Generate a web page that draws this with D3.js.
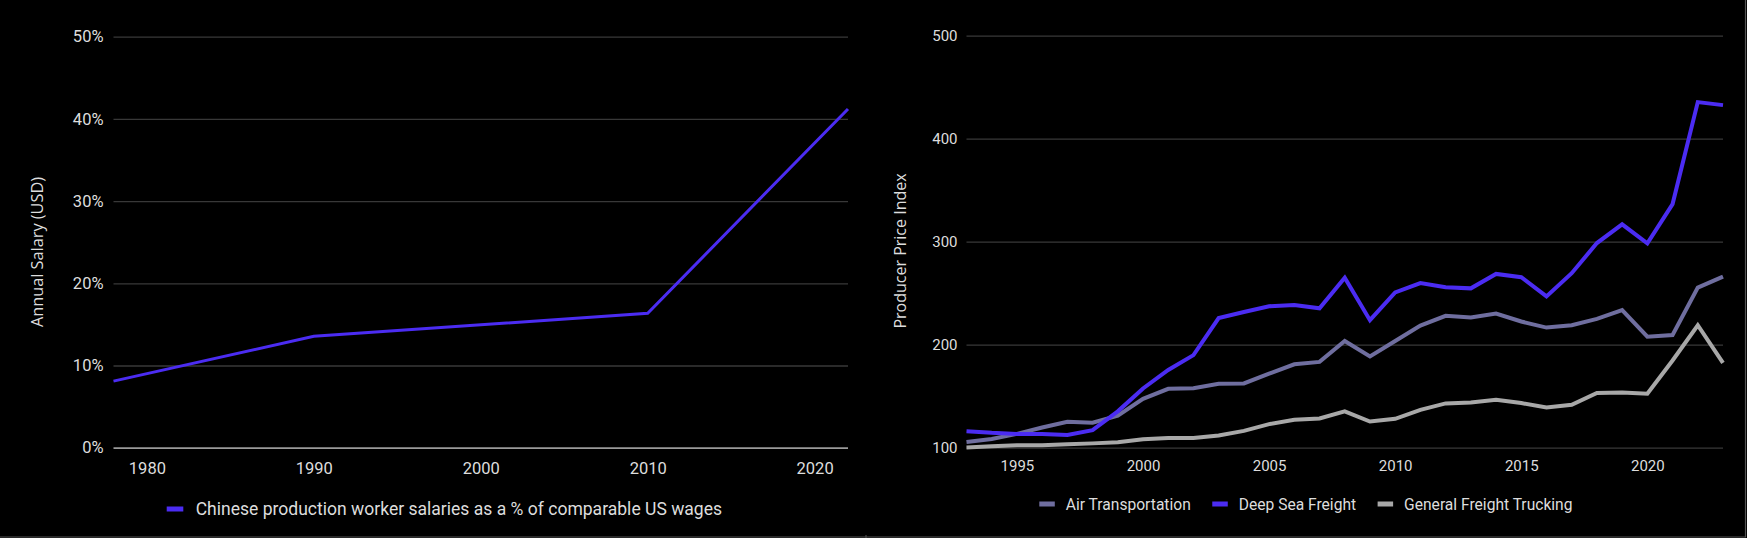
<!DOCTYPE html>
<html>
<head>
<meta charset="UTF-8">
<style>
  html, body { margin: 0; padding: 0; background: #000; }
  svg { display: block; }
  text { font-family: Roboto, "Noto Sans", sans-serif; fill: #dddddd; }
</style>
</head>
<body>
<svg width="1747" height="538"></svg>
<script src="https://cdn.jsdelivr.net/npm/d3@7"></script>
<script>

// left chart: Chinese wages as share of US wages
var wageYears = [1978, 1990, 2010, 2022];
var wageShare = [0.081, 0.1355, 0.1635, 0.412];
var wageXTicks = [1980, 1990, 2000, 2010, 2020];
var wageYTicks = [0, 0.1, 0.2, 0.3, 0.4, 0.5];
var wageLegend = "Chinese production worker salaries as a % of comparable US wages";

// right chart: producer price indexes
var ppiYears = [1993, 1994, 1995, 1996, 1997, 1998, 1999, 2000, 2001, 2002, 2003,
  2004, 2005, 2006, 2007, 2008, 2009, 2010, 2011, 2012, 2013, 2014, 2015, 2016,
  2017, 2018, 2019, 2020, 2021, 2022, 2023];
var airTransport = [105.6, 108.5, 113.4, 119.6, 125.2, 124.2, 131.0, 147.4, 157.2, 157.8,
  162.1, 162.4, 171.9, 181.0, 183.3, 203.6, 188.6, 203.6, 218.6, 228.0, 226.4, 230.3,
  222.5, 216.6, 218.9, 225.1, 233.6, 207.8, 209.4, 255.4, 266.1];
var deepSea = [116.0, 114.4, 113.4, 113.4, 112.4, 117.0, 135.3, 157.5, 175.5, 189.9,
  225.8, 231.7, 237.3, 238.6, 235.3, 265.0, 223.8, 250.8, 259.9, 255.7, 254.7, 268.7,
  265.5, 246.9, 269.4, 298.7, 316.9, 298.4, 336.5, 435.5, 432.6];
var trucking = [100.3, 101.3, 102.3, 102.3, 103.3, 104.2, 105.2, 108.2, 109.5, 109.5,
  111.8, 116.3, 122.9, 127.1, 128.4, 135.3, 125.4, 128.0, 136.8, 143.0, 144.0, 146.6,
  143.3, 139.1, 141.7, 153.1, 153.7, 152.4, 184.7, 218.9, 182.4];
var ppiNames = ["Air Transportation", "Deep Sea Freight", "General Freight Trucking"];
var ppiXTicks = [1995, 2000, 2005, 2010, 2015, 2020];
var ppiYTicks = [100, 200, 300, 400, 500];

var blue = "#4b2cf2", slate = "#6f6e9f", grey = "#a8a8a8";
var gridColor = "#383838";

var svg = d3.select("svg");

svg.append("rect").attr("width", 1747).attr("height", 538).attr("fill", "#000");
// card frame
svg.append("line").attr("x1", 0).attr("x2", 1746).attr("y1", 537).attr("y2", 537)
  .attr("stroke", "#555").attr("stroke-width", 1.2);
svg.append("line").attr("x1", 1745.5).attr("x2", 1745.5).attr("y1", 0).attr("y2", 537)
  .attr("stroke", "#555").attr("stroke-width", 1.2);
svg.append("line").attr("x1", 866).attr("x2", 866).attr("y1", 535).attr("y2", 538)
  .attr("stroke", "#555");

// ---------- left chart ----------
var xL = d3.scaleLinear().domain([1978, 2022]).range([113.5, 848]);
var yL = d3.scaleLinear().domain([0, 0.5]).range([447.7, 36.7]);

var gL = svg.append("g");

gL.append("g")
  .attr("transform", "translate(" + xL.range()[0] + ",0)")
  .call(d3.axisLeft(yL).tickValues(wageYTicks).tickFormat(d3.format(".0%"))
    .tickSize(-(xL.range()[1] - xL.range()[0])).tickPadding(10))
  .call(function(g) {
    g.select(".domain").remove();
    g.selectAll(".tick line").attr("stroke", function(d) { return d === 0 ? "#9a9a9a" : gridColor; })
      .attr("stroke-width", function(d) { return d === 0 ? 1.8 : 1.3; });
    g.selectAll(".tick text").attr("fill", "#dddddd").style("font-size", "16.5px")
      .style("font-family", "Roboto");
  });

gL.append("g")
  .attr("transform", "translate(0," + yL(0) + ")")
  .call(d3.axisBottom(xL).tickValues(wageXTicks).tickFormat(d3.format("d"))
    .tickSize(0).tickPadding(14.5))
  .call(function(g) {
    g.select(".domain").remove();
    g.selectAll(".tick text").attr("fill", "#dddddd").style("font-size", "16.5px")
      .style("font-family", "Roboto");
  });

gL.append("path")
  .datum(wageYears.map(function(d, i) { return [d, wageShare[i]]; }))
  .attr("fill", "none")
  .attr("stroke", blue)
  .attr("stroke-width", 3)
  .attr("d", d3.line().x(function(d) { return xL(d[0]); }).y(function(d) { return yL(d[1]); }));

gL.append("text")
  .attr("transform", "translate(37," + 252 + ") rotate(-90)")
  .attr("text-anchor", "middle")
  .attr("dy", "0.35em")
  .style("font-family", "Open Sans")
  .style("font-size", "16.3px")
  .text("Annual Salary (USD)");

var legL = gL.append("g").attr("transform", "translate(166.7,509)");
legL.append("rect").attr("x", 0).attr("y", -2.5).attr("width", 16.6).attr("height", 5).attr("fill", blue);
legL.append("text").attr("x", 29).attr("dy", "0.36em").style("font-size", "17.55px").text(wageLegend);

// ---------- right chart ----------
var xR = d3.scaleLinear().domain([1993, 2023]).range([966.5, 1723]);
var yR = d3.scaleLinear().domain([100, 500]).range([447.7, 35.7]);

var gR = svg.append("g");

gR.append("g")
  .attr("transform", "translate(" + xR.range()[0] + ",0)")
  .call(d3.axisLeft(yR).tickValues(ppiYTicks).tickFormat(d3.format("d"))
    .tickSize(-(xR.range()[1] - xR.range()[0])).tickPadding(9))
  .call(function(g) {
    g.select(".domain").remove();
    g.selectAll(".tick line").attr("stroke", gridColor).attr("stroke-width", 1.3);
    g.selectAll(".tick text").attr("fill", "#dddddd").style("font-size", "15px")
      .style("font-family", "Roboto");
  });

gR.append("g")
  .attr("transform", "translate(0," + yR(100) + ")")
  .call(d3.axisBottom(xR).tickValues(ppiXTicks).tickFormat(d3.format("d"))
    .tickSize(0).tickPadding(13))
  .call(function(g) {
    g.select(".domain").remove();
    g.selectAll(".tick text").attr("fill", "#dddddd").style("font-size", "15px")
      .style("font-family", "Roboto");
  });

var series = [
  { name: ppiNames[0], values: airTransport, color: slate },
  { name: ppiNames[1], values: deepSea, color: blue },
  { name: ppiNames[2], values: trucking, color: grey }
];

var lineR = d3.line()
  .x(function(d, i) { return xR(ppiYears[i]); })
  .y(function(d) { return yR(d); });

gR.selectAll(".series")
  .data(series)
  .enter().append("path")
    .attr("class", "series")
    .attr("fill", "none")
    .attr("stroke", function(d) { return d.color; })
    .attr("stroke-width", 4)
    .attr("d", function(d) { return lineR(d.values); });

gR.append("text")
  .attr("transform", "translate(900.5," + 251 + ") rotate(-90)")
  .attr("text-anchor", "middle")
  .attr("dy", "0.35em")
  .style("font-family", "Open Sans")
  .style("font-size", "16px")
  .text("Producer Price Index");

var legR = gR.append("g").attr("transform", "translate(1039.3,504)");
var cursor = 0;
series.forEach(function(s) {
  var item = legR.append("g").attr("transform", "translate(" + cursor + ",0)");
  item.append("rect").attr("x", 0).attr("y", -2.5).attr("width", 15.5).attr("height", 5).attr("fill", s.color);
  var t = item.append("text").attr("x", 26.5).attr("dy", "0.36em").style("font-size", "15.6px").text(s.name);
  cursor += 26.5 + t.node().getComputedTextLength() + 21.5;
});

</script>
</body>
</html>
